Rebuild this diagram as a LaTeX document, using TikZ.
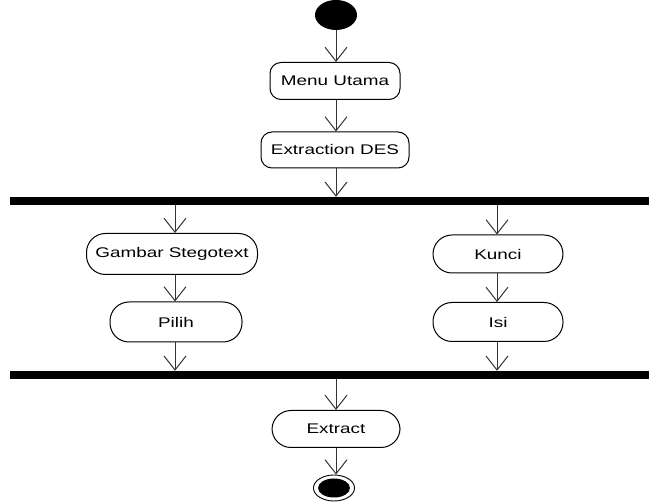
\documentclass[tikz,border=0pt]{standalone}
\usepackage{fontspec}
\newfontfamily\lab[FakeStretch=1.35]{Liberation Sans}
\usetikzlibrary{arrows.meta,shapes.geometric}
\begin{document}
\begin{tikzpicture}[x=1pt,y=-1pt,
  >={Straight Barb[length=14pt,width=22pt,line width=1pt]},
  flow/.style={->,line width=1pt,draw=black!80},
  boxr/.style={draw,line width=1pt,rounded corners=11pt,inner sep=0pt,font=\lab\fontsize{14}{16}\selectfont},
  stad/.style={draw,line width=1pt,rounded corners=19pt,inner sep=0pt,font=\lab\fontsize{14}{16}\selectfont},
  bar/.style={fill=black,inner sep=0pt,minimum width=639pt,minimum height=8pt,anchor=west}]
\useasboundingbox (0,0) rectangle (649,502);
\node[ellipse,fill=black,inner sep=0pt,minimum width=42pt,minimum height=30pt] (start) at (336,15) {};
\node[boxr,minimum width=130pt,minimum height=37pt] (menu) at (335,81) {Menu Utama};
\node[boxr,minimum width=148pt,minimum height=36pt] (ext) at (335,150) {Extraction DES};
\node[bar] (bar1) at (10,201) {};
\node[stad,minimum width=171pt,minimum height=41pt] (gs) at (172,254) {Gambar Stegotext};
\node[stad,minimum width=132pt,minimum height=40pt] (pilih) at (176,322) {Pilih};
\node[stad,minimum width=130pt,minimum height=38pt] (kunci) at (498,254) {Kunci};
\node[stad,minimum width=130pt,minimum height=39pt] (isi) at (498,322) {Isi};
\node[bar] (bar2) at (10,375) {};
\node[stad,minimum width=128pt,minimum height=37pt] (extract) at (336,429) {Extract};
\node[ellipse,draw,line width=0.9pt,inner sep=0pt,minimum width=41pt,minimum height=26pt] (end) at (334,488) {};
\node[ellipse,fill=black,inner sep=0pt,minimum width=32pt,minimum height=19pt] (endin) at (end) {};
\coordinate (l) at (175,0);
\coordinate (r) at (497,0);
\coordinate (c) at (336,0);
\draw[flow] (start.south -| c) -- (menu.north -| c);
\draw[flow] (menu.south -| c) -- (ext.north -| c);
\draw[flow] (ext.south -| c) -- (bar1.north -| c);
\draw[flow] (bar1.south -| l) -- (gs.north -| l);
\draw[flow] (gs.south -| l) -- (pilih.north -| l);
\draw[flow] (pilih.south -| l) -- (bar2.north -| l);
\draw[flow] (bar1.south -| r) -- (kunci.north -| r);
\draw[flow] (kunci.south -| r) -- (isi.north -| r);
\draw[flow] (isi.south -| r) -- (bar2.north -| r);
\draw[flow] (bar2.south -| c) -- (extract.north -| c);
\draw[flow] (extract.south -| c) -- (end.north -| c);
\end{tikzpicture}
\end{document}
